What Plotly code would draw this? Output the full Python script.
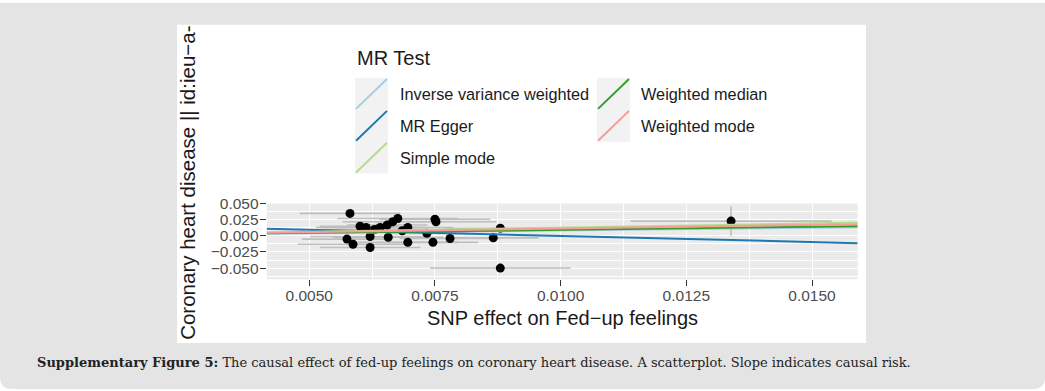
import plotly.graph_objects as go

# ---------------- data ----------------
snp_bx = [0.00581, 0.00575, 0.00587, 0.00601, 0.00613, 0.00621, 0.00621, 0.00641,
          0.00655, 0.00657, 0.00666, 0.00676, 0.00696, 0.00696, 0.00734, 0.00750,
          0.00752, 0.00746, 0.00780, 0.00866, 0.00880, 0.00880, 0.01339, 0.00630,
          0.00685]
snp_by = [0.035, -0.005, -0.013, 0.015, 0.013, -0.001, -0.018, 0.013,
          0.017, -0.002, 0.022, 0.027, 0.013, -0.010, 0.004, 0.026,
          0.022, -0.010, -0.004, -0.003, 0.012, -0.050, 0.023, 0.010,
          0.008]
snp_se_x = [0.0010, 0.0009, 0.0011, 0.0008, 0.0010, 0.0012, 0.0010, 0.0009,
            0.0008, 0.0011, 0.0010, 0.0012, 0.0009, 0.0010, 0.0008, 0.0011,
            0.0012, 0.0009, 0.0010, 0.0009, 0.0011, 0.0014, 0.0020, 0.0010,
            0.0011]
snp_se_y = [0.005, 0.006, 0.005, 0.006, 0.005, 0.006, 0.005, 0.006,
            0.005, 0.006, 0.005, 0.006, 0.005, 0.006, 0.005, 0.006,
            0.005, 0.006, 0.005, 0.007, 0.006, 0.007, 0.023, 0.005,
            0.006]

methods = ["Inverse variance weighted", "MR Egger", "Simple mode",
           "Weighted median", "Weighted mode"]
method_intercept = [0.0, 0.019, 0.0, 0.0, 0.0]
method_slope = [0.85, -1.90, 1.30, 0.95, 1.15]
method_colors = ["#a6cee3", "#1f78b4", "#b2df8a", "#33a02c", "#fb9a99"]

x_range = [0.004153, 0.015909]
y_range = [-0.0675, 0.0502]
x_tickvals = [0.005, 0.0075, 0.010, 0.0125, 0.015]
x_ticktext = ["0.0050", "0.0075", "0.0100", "0.0125", "0.0150"]
y_tickvals = [0.05, 0.025, 0.0, -0.025, -0.05]
y_ticktext = ["0.050", "0.025", "0.000", "\u22120.025", "\u22120.050"]

x_title = "SNP effect on Fed\u2212up feelings"
y_title = "Coronary heart disease || id:ieu\u2212a-"
legend_title = "MR Test"
caption_bold = "Supplementary Figure 5:"
caption_rest = " The causal effect of fed-up feelings on coronary heart disease. A scatterplot. Slope indicates causal risk."

# ---------------- layout helpers ----------------
W, H = 1045, 391


def X(px):
    return px / W


def Y(py):
    return 1 - py / H


panel_l, panel_r, panel_t, panel_b = 266.7, 857.7, 199.7, 277.0

fig = go.Figure()

fig.add_trace(go.Scatter(
    x=snp_bx, y=snp_by, mode="markers",
    marker=dict(color="black", size=9),
    error_x=dict(type="data", array=snp_se_x, color="#bebebe", thickness=1.6, width=0),
    error_y=dict(type="data", array=snp_se_y, color="#bebebe", thickness=1.6, width=0),
    showlegend=False, hoverinfo="skip",
))

for name, a, b, col in zip(methods, method_intercept, method_slope, method_colors):
    fig.add_trace(go.Scatter(
        x=x_range, y=[a + b * xv for xv in x_range], mode="lines",
        line=dict(color=col, width=2), name=name, showlegend=False,
        hoverinfo="skip",
    ))

shapes = []
# outer gray frame with rounded bottom corners
r = 12
shapes.append(dict(
    type="path", xref="paper", yref="paper", layer="below",
    path=(f"M {X(0)} {Y(-5)} L {X(W)} {Y(-5)} L {X(W)} {Y(389 - r)} "
          f"Q {X(W)} {Y(389)} {X(W - r)} {Y(389)} L {X(r)} {Y(389)} "
          f"Q {X(0)} {Y(389)} {X(0)} {Y(389 - r)} Z"),
    fillcolor="#e4e4e4", line=dict(width=0)))
# white chart box
shapes.append(dict(type="rect", xref="paper", yref="paper", layer="below",
                   x0=X(177), x1=X(866), y0=Y(342), y1=Y(17),
                   fillcolor="white", line=dict(width=0)))
# panel background
shapes.append(dict(type="rect", xref="paper", yref="paper", layer="below",
                   x0=X(panel_l), x1=X(panel_r), y0=Y(panel_b), y1=Y(panel_t),
                   fillcolor="#ebebeb", line=dict(width=0)))

annotations = []
# legend
key_w = 33
key_h = 32.5
col_x = [355, 597]
key_top = 71.5
label_x = [398, 639]
positions = [(0, 0), (0, 1), (0, 2), (1, 0), (1, 1)]
for (c, rr), name, col in zip(positions, methods, method_colors):
    x0 = col_x[c]
    y0 = key_top + rr * key_h
    shapes.append(dict(type="rect", xref="paper", yref="paper", layer="above",
                       x0=X(x0), x1=X(x0 + key_w), y0=Y(y0 + key_h), y1=Y(y0),
                       fillcolor="#f2f2f2", line=dict(width=0)))
    shapes.append(dict(type="line", xref="paper", yref="paper", layer="above",
                       x0=X(x0 + 1), y0=Y(y0 + key_h - 1),
                       x1=X(x0 + key_w - 1), y1=Y(y0 + 1),
                       line=dict(color=col, width=2)))
    annotations.append(dict(
        text=name, xref="paper", yref="paper", x=X(label_x[c]),
        y=Y(y0 + key_h / 2), xanchor="left", yanchor="middle", showarrow=False,
        font=dict(family="Liberation Sans", size=16.3, color="#1a1a1a")))

annotations.append(dict(
    text=legend_title, xref="paper", yref="paper", x=X(355), y=Y(51),
    xanchor="left", yanchor="middle", showarrow=False,
    font=dict(family="Liberation Sans", size=20, color="#1a1a1a")))

# axis titles
annotations.append(dict(
    text=x_title, xref="paper", yref="paper", x=X((panel_l + panel_r) / 2),
    y=Y(316), xanchor="center", yanchor="middle", showarrow=False,
    font=dict(family="Liberation Sans", size=20, color="#1a1a1a")))
annotations.append(dict(
    text=y_title, xref="paper", yref="paper", x=X(187.5), y=Y(179),
    xanchor="center", yanchor="middle", showarrow=False, textangle=-90,
    font=dict(family="Liberation Sans", size=20.5, color="#1a1a1a")))

# caption
annotations.append(dict(
    text=f"<b>{caption_bold}</b>{caption_rest}", xref="paper", yref="paper",
    x=X(35), y=Y(362), xanchor="left", yanchor="middle", showarrow=False,
    font=dict(family="DejaVu Serif", size=13.0, color="#222222")))

axis_font = dict(family="Liberation Sans", size=15.5, color="#4d4d4d")

fig.update_layout(
    width=W, height=H, autosize=False,
    margin=dict(l=0, r=0, t=0, b=0, pad=0),
    paper_bgcolor="white", plot_bgcolor="rgba(0,0,0,0)",
    shapes=shapes, annotations=annotations,
    xaxis=dict(domain=[X(panel_l), X(panel_r)], range=x_range,
               tickvals=x_tickvals, ticktext=x_ticktext,
               showgrid=True, gridcolor="white", gridwidth=1.3,
               minor=dict(tick0=0.00625, dtick=0.0025, showgrid=True,
                          gridcolor="white", gridwidth=0.6, ticks=""),
               ticks="outside", ticklen=6, tickwidth=1.3, tickcolor="#333333",
               ticklabelstandoff=-4,
               tickfont=axis_font, zeroline=False, showline=False),
    yaxis=dict(domain=[Y(panel_b), Y(panel_t)], range=y_range,
               tickvals=y_tickvals, ticktext=y_ticktext,
               showgrid=True, gridcolor="white", gridwidth=1.3,
               minor=dict(tick0=0.0125, dtick=0.025, showgrid=True,
                          gridcolor="white", gridwidth=0.6, ticks=""),
               ticks="outside", ticklen=6, tickwidth=1.3, tickcolor="#333333",
               ticklabelstandoff=-2,
               tickfont=axis_font, zeroline=False, showline=False),
)

fig.write_html(
    "out.html",
    config={"displayModeBar": False},
    post_script="document.body.style.margin='0';document.body.style.overflow='hidden';",
)
